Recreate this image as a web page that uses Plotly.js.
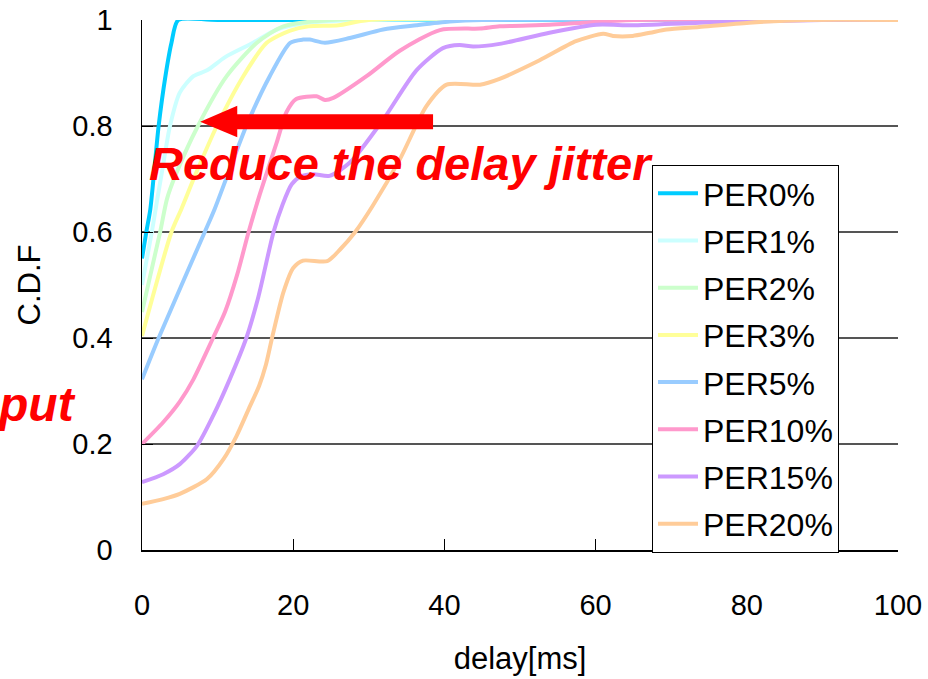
<!DOCTYPE html>
<html>
<head>
<meta charset="utf-8">
<script src="https://cdn.plot.ly/plotly-3.0.1.min.js"></script>
<style>html,body{margin:0;padding:0;background:#fff;}#chart{width:928px;height:679px;}</style>
</head>
<body>
<div id="chart"></div>
<script>
const seriesNames = ["PER0%","PER1%","PER2%","PER3%","PER5%","PER10%","PER15%","PER20%"];
const seriesColors = ["#00CCFF","#CCFFFF","#CCFFCC","#FFFF99","#99CCFF","#FF99CC","#CC99FF","#FFCC99"];

const per0X = [0,0.57,1.1,2.2,3.1,3.9,4.8,10,100];
const per0Y = [0.55,0.6,0.643,0.8,0.894,0.957,1,1,1];

const per1X = [0,1.3,2.0,2.6,3.7,5.0,6.8,8.6,11,14.7,17.8,22,30,100];
const per1Y = [0.50,0.60,0.66,0.71,0.80,0.863,0.894,0.905,0.93,0.957,0.982,0.995,1,1];

const per2X = [0,2.4,3.3,4.4,7.4,11.2,15.2,18.7,25,100];
const per2Y = [0.449,0.6,0.662,0.706,0.8,0.894,0.957,0.988,1,1];

const per3X = [0,3.9,5.2,7.0,9.9,13.4,16.5,19.6,22,26,30,100];
const per3Y = [0.404,0.6,0.643,0.706,0.8,0.894,0.957,0.98,0.988,0.99,1,1];

const per5X = [0,2.2,8.3,9.6,13.8,16.9,19.6,21.3,22.2,24.2,27.5,31.9,36.3,40.7,45,100];
const per5Y = [0.322,0.4,0.6,0.643,0.8,0.894,0.957,0.963,0.963,0.957,0.966,0.982,0.99,0.997,1,1];

const per10X = [0,2.8,5.0,6.8,9.4,11.0,12.6,14.1,15.6,17.8,19.1,20.4,23.1,24.2,25.3,29.7,34.1,39.4,44.7,47.3,53.9,58.3,65,100];
const per10Y = [0.2,0.241,0.28,0.322,0.4,0.45,0.52,0.6,0.672,0.768,0.826,0.851,0.856,0.849,0.853,0.894,0.942,0.981,0.984,0.988,0.991,0.995,1,1];

const per15X = [0,2.8,5.0,7.3,9.4,11.6,13.8,15.4,17.4,18.6,19.8,21.0,22.7,24.8,27.5,31.9,36.3,39.8,42.0,43.8,47.3,53.9,60.1,64.9,73.7,80.3,90,100];
const per15Y = [0.128,0.143,0.162,0.197,0.253,0.322,0.4,0.478,0.6,0.652,0.69,0.705,0.709,0.706,0.731,0.812,0.905,0.947,0.953,0.950,0.955,0.976,0.991,0.99,0.995,0.997,1,1];

const per20X = [0,2.8,5.0,8.6,10.8,12.5,14.3,15.5,16.4,17.2,18.7,20.0,21.3,24.5,26.2,28.2,30.5,34.1,37.6,40.3,44.7,47.3,52.6,57.4,61.0,62.3,64.9,67.2,69.4,73.7,80.3,88,100];
const per20Y = [0.087,0.096,0.106,0.134,0.172,0.215,0.272,0.31,0.35,0.4,0.486,0.532,0.546,0.545,0.567,0.6,0.649,0.737,0.837,0.878,0.878,0.889,0.924,0.96,0.974,0.97,0.97,0.976,0.982,0.987,0.995,1,1];

const xTickVals = [0,20,40,60,80,100];
const yTickVals = [0,0.2,0.4,0.6,0.8,1];

const xs = [per0X,per1X,per2X,per3X,per5X,per10X,per15X,per20X];
const ys = [per0Y,per1Y,per2Y,per3Y,per5Y,per10Y,per15Y,per20Y];

const FONT = '"Liberation Sans", Arial, sans-serif';

const traces = seriesNames.map((name, i) => ({
  type: 'scatter',
  mode: 'lines',
  name: name,
  legendgroup: 'g' + i,
  x: xs[i],
  y: ys[i],
  line: {color: seriesColors[i], width: 4, shape: 'spline', smoothing: 0.7},
  hoverinfo: 'skip'
}));

const layout = {
  width: 928,
  height: 679,
  margin: {l: 142, r: 30, t: 20, b: 129},
  paper_bgcolor: '#ffffff',
  plot_bgcolor: '#ffffff',
  font: {family: FONT, size: 29, color: '#000'},
  showlegend: true,
  legend: {
    x: 0.6746, y: 0.7264, xanchor: 'left', yanchor: 'top',
    bgcolor: '#ffffff', bordercolor: '#000000', borderwidth: 1,
    font: {family: FONT, size: 32, color: '#000'},
    tracegroupgap: 2.6,
    itemwidth: 40
  },
  xaxis: {
    range: [0, 100],
    tickvals: xTickVals,
    ticks: 'inside', ticklen: 11, tickcolor: '#000', tickwidth: 1,
    showline: true, linecolor: '#000', linewidth: 1.5,
    showgrid: false, zeroline: false,
    ticklabelstandoff: 29,
    tickfont: {family: FONT, size: 29, color: '#000'},
    title: {text: 'delay[ms]', font: {family: FONT, size: 31, color: '#000'}, standoff: 27}
  },
  yaxis: {
    range: [0, 1],
    tickvals: yTickVals,
    ticks: 'inside', ticklen: 11, tickcolor: '#000', tickwidth: 1,
    showline: true, linecolor: '#000', linewidth: 1.5,
    showgrid: true, gridcolor: '#555555', gridwidth: 1.2,
    zeroline: false,
    ticklabelstandoff: 22,
    tickfont: {family: FONT, size: 29, color: '#000'},
    title: {text: 'C.D.F', font: {family: FONT, size: 31, color: '#000'}, standoff: 22}
  },
  shapes: [
    {type: 'rect', xref: 'x', yref: 'y', x0: 12.3, x1: 38.5, y0: 0.794, y1: 0.822,
     fillcolor: '#FF0000', line: {width: 0}},
    {type: 'path', xref: 'x', yref: 'y', path: 'M7.7,0.808 L12.6,0.838 L12.6,0.779 Z',
     fillcolor: '#FF0000', line: {width: 0}}
  ],
  annotations: [
    {xref: 'paper', yref: 'paper', x: 0.343, y: 0.73, xanchor: 'center', yanchor: 'middle',
     text: '<b><i>Reduce the delay jitter</i></b>', showarrow: false,
     font: {family: FONT, size: 47, color: '#FF0000'}},
    {xref: 'paper', yref: 'paper', x: -0.0847, y: 0.274, xanchor: 'right', yanchor: 'middle',
     text: '<b><i>put</i></b>', showarrow: false,
     font: {family: FONT, size: 48, color: '#FF0000'}}
  ]
};

Plotly.newPlot('chart', traces, layout, {staticPlot: true, displayModeBar: false});
</script>
</body>
</html>
